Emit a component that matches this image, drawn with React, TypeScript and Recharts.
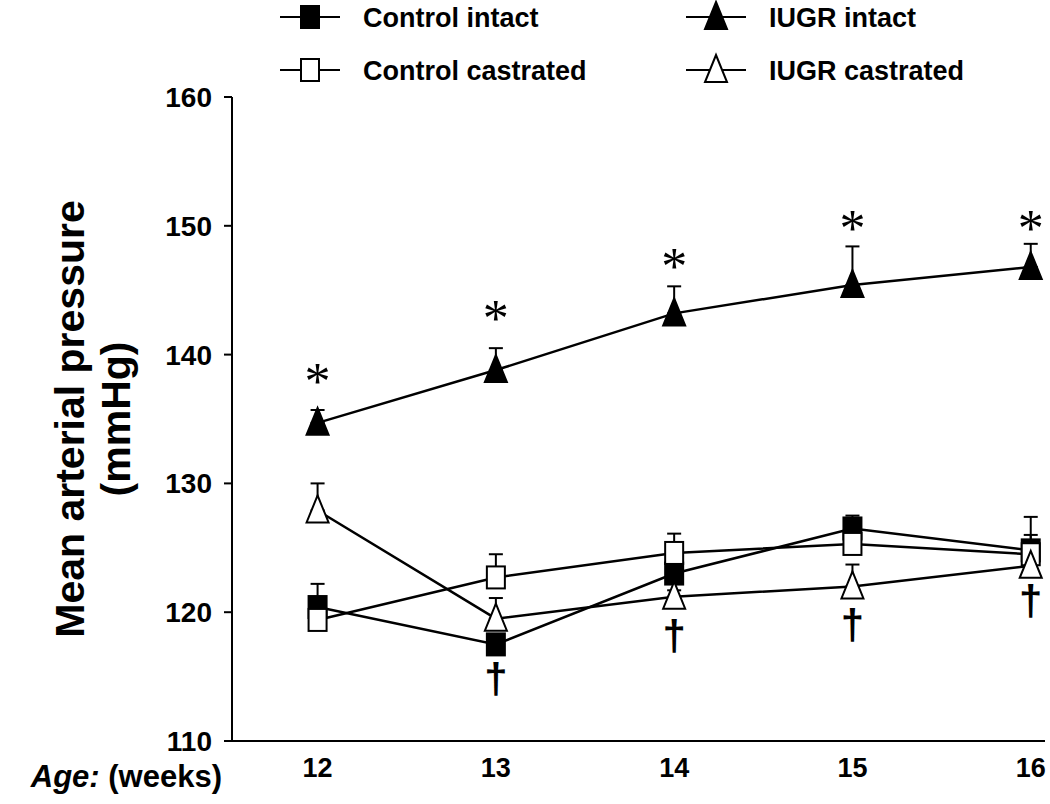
import React from "react";
import { ComposedChart, Line, XAxis, YAxis, ErrorBar, ReferenceDot } from "recharts";

const weeks = [12, 13, 14, 15, 16];

const controlIntact = [120.4, 117.5, 123.0, 126.5, 124.8];
const controlIntactErr = [1.8, 0, 0, 1.0, 2.6];
const controlCastrated = [119.4, 122.7, 124.6, 125.3, 124.5];
const controlCastratedErr = [0.5, 1.8, 1.5, 0.5, 1.5];
const iugrIntact = [134.7, 138.8, 143.2, 145.4, 146.8];
const iugrIntactErr = [1.0, 1.7, 2.1, 3.0, 1.8];
const iugrCastrated = [127.9, 119.5, 121.2, 122.0, 123.6];
const iugrCastratedErr = [2.1, 1.6, 0.5, 1.7, 0.5];

// significance marks (data units)
const asteriskAt = [138.5, 143.4, 147.4, 150.4, 150.4];
const daggerAt = [null, 114.7, 118.1, 118.9, 120.8];

const yTicks = [110, 120, 130, 140, 150, 160];

const seriesNames = ["Control intact", "IUGR intact", "Control castrated", "IUGR castrated"];
const seriesShapes = ["squareFilled", "triangleFilled", "squareOpen", "triangleOpen"];

const FONT = "'Liberation Sans', Arial, sans-serif";

const data = weeks.map((w, i) => ({
  week: w,
  controlIntact: controlIntact[i],
  controlIntactErr: [0, controlIntactErr[i]],
  controlCastrated: controlCastrated[i],
  controlCastratedErr: [0, controlCastratedErr[i]],
  iugrIntact: iugrIntact[i],
  iugrIntactErr: [0, iugrIntactErr[i]],
  iugrCastrated: iugrCastrated[i],
  iugrCastratedErr: [0, iugrCastratedErr[i]],
}));

function Marker({ cx, cy, kind }: { cx: number; cy: number; kind: string }) {
  const fill = kind.endsWith("Filled") ? "#000" : "#fff";
  if (kind.startsWith("square")) {
    return <rect x={cx - 9} y={cy - 11} width={18} height={22} fill={fill} stroke="#000" strokeWidth={2} />;
  }
  return (
    <polygon
      points={`${cx},${cy - 15} ${cx + 11},${cy + 12} ${cx - 11},${cy + 12}`}
      fill={fill}
      stroke="#000"
      strokeWidth={2}
    />
  );
}

const dotFor = (kind: string) => (p: any) =>
  p.cx == null ? <g key={p.index} /> : <Marker key={p.index} cx={p.cx} cy={p.cy} kind={kind} />;

function YTick({ x, y, payload }: any) {
  return (
    <text x={x - 10} y={y} dy={10} textAnchor="end" fontFamily={FONT} fontWeight="bold" fontSize={28} fill="#000">
      {payload.value}
    </text>
  );
}

function XTick({ x, y, payload }: any) {
  return (
    <text x={x} y={y + 28} textAnchor="middle" fontFamily={FONT} fontWeight="bold" fontSize={27} fill="#000">
      {payload.value}
    </text>
  );
}

function XLabel({ viewBox }: any) {
  return (
    <text x={viewBox.x - 10} y={viewBox.y + 46} textAnchor="end" fontFamily={FONT} fontWeight="bold" fontSize={31} fill="#000">
      <tspan fontStyle="italic">Age:</tspan>
      <tspan> (weeks)</tspan>
    </text>
  );
}

function YLabel({ viewBox }: any) {
  const cy = viewBox.y + viewBox.height / 2;
  return (
    <g fontFamily={FONT} fontWeight="bold" fontSize={41} fill="#000">
      <text x={84} y={cy} textAnchor="middle" transform={`rotate(-90 84 ${cy})`}>
        Mean arterial pressure
      </text>
      <text x={130} y={cy} textAnchor="middle" transform={`rotate(-90 130 ${cy})`}>
        (mmHg)
      </text>
    </g>
  );
}

function Asterisk({ cx, cy }: any) {
  return (
    <text x={cx} y={cy + 25} textAnchor="middle" fontFamily="'Liberation Serif', serif" fontSize={52} fill="#000">
      *
    </text>
  );
}

function Dagger({ cx, cy }: any) {
  return (
    <text x={cx} y={cy + 13} textAnchor="middle" fontFamily={FONT} fontWeight="bold" fontSize={42} fill="#000">
      †
    </text>
  );
}

function LegendBlock() {
  const cols = [310, 716];
  const rows = [17, 70];
  return (
    <svg width={1050} height={100} style={{ position: "absolute", left: 0, top: 0 }}>
      {seriesNames.map((name, i) => {
        const cx = cols[i % 2];
        const cy = rows[Math.floor(i / 2)];
        return (
          <g key={name}>
            <line x1={cx - 30} x2={cx + 30} y1={cy} y2={cy} stroke="#000" strokeWidth={2} />
            <Marker cx={cx} cy={cy} kind={seriesShapes[i]} />
            <text x={cx + 53} y={cy + 10} fontFamily={FONT} fontWeight="bold" fontSize={27} fill="#000">
              {name}
            </text>
          </g>
        );
      })}
    </svg>
  );
}

export default function App() {
  return (
    <div style={{ position: "absolute", left: 0, top: 0, width: 1050, height: 804, background: "#fff" }}>
      <ComposedChart width={1050} height={804} data={data} margin={{ top: 97, right: 5, bottom: 0, left: 0 }}>
        <XAxis
          dataKey="week"
          type="number"
          domain={[11.52, 16.08]}
          ticks={weeks}
          tickLine={false}
          axisLine={{ stroke: "#000", strokeWidth: 2 }}
          tick={<XTick />}
          height={63}
          label={{ content: <XLabel /> }}
        />
        <YAxis
          type="number"
          domain={[110, 160]}
          ticks={yTicks}
          allowDataOverflow
          width={232}
          tickSize={8}
          tickLine={{ stroke: "#000", strokeWidth: 2 }}
          axisLine={{ stroke: "#000", strokeWidth: 2 }}
          tick={<YTick />}
          label={{ content: <YLabel /> }}
        />
        <Line dataKey="controlIntact" stroke="#000" strokeWidth={2.5} dot={dotFor("squareFilled")} isAnimationActive={false}>
          <ErrorBar dataKey="controlIntactErr" direction="y" width={7} stroke="#000" strokeWidth={2} />
        </Line>
        <Line dataKey="controlCastrated" stroke="#000" strokeWidth={2.5} dot={dotFor("squareOpen")} isAnimationActive={false}>
          <ErrorBar dataKey="controlCastratedErr" direction="y" width={7} stroke="#000" strokeWidth={2} />
        </Line>
        <Line dataKey="iugrCastrated" stroke="#000" strokeWidth={2.5} dot={dotFor("triangleOpen")} isAnimationActive={false}>
          <ErrorBar dataKey="iugrCastratedErr" direction="y" width={7} stroke="#000" strokeWidth={2} />
        </Line>
        <Line dataKey="iugrIntact" stroke="#000" strokeWidth={2.5} dot={dotFor("triangleFilled")} isAnimationActive={false}>
          <ErrorBar dataKey="iugrIntactErr" direction="y" width={7} stroke="#000" strokeWidth={2} />
        </Line>
        {weeks.map((w, i) => (
          <ReferenceDot key={`a${w}`} x={w} y={asteriskAt[i]} r={0} shape={<Asterisk />} />
        ))}
        {weeks.map((w, i) =>
          daggerAt[i] == null ? null : <ReferenceDot key={`d${w}`} x={w} y={daggerAt[i] as number} r={0} shape={<Dagger />} />
        )}
      </ComposedChart>
      <LegendBlock />
    </div>
  );
}
